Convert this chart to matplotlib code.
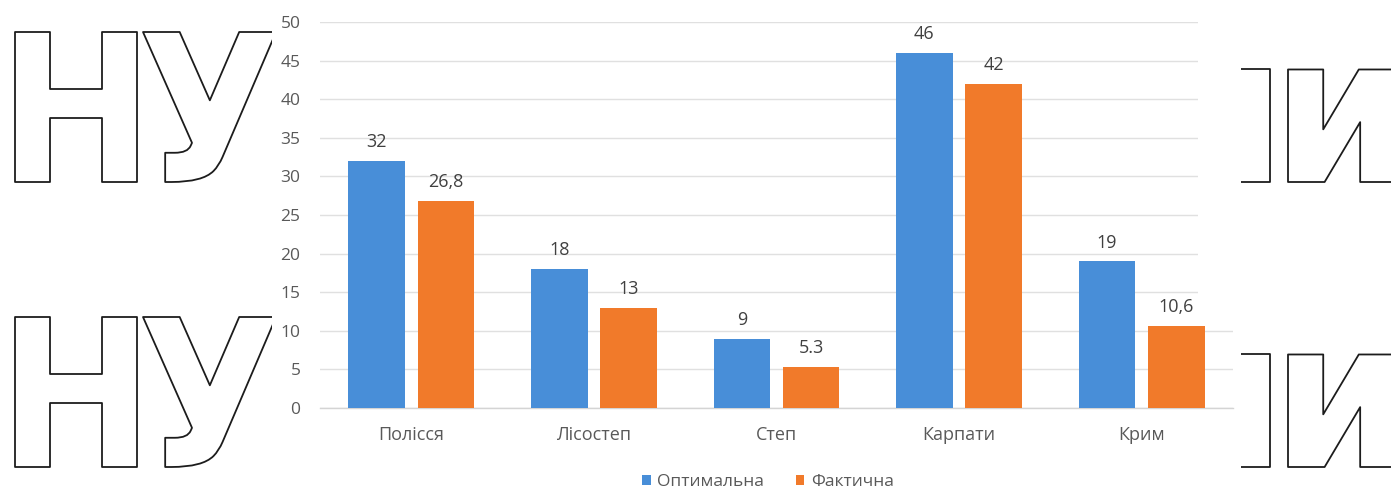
import matplotlib
matplotlib.use("Agg")
import matplotlib.pyplot as plt
from matplotlib.textpath import TextPath
from matplotlib.font_manager import FontProperties
from matplotlib.patches import PathPatch, Rectangle, Patch
from matplotlib.transforms import Affine2D
import numpy as np

categories = ["Полісся", "Лісостеп", "Степ", "Карпати", "Крим"]
optimal = [32, 18, 9, 46, 19]
actual = [26.8, 13, 5.3, 42, 10.6]
optimal_labels = ["32", "18", "9", "46", "19"]
actual_labels = ["26,8", "13", "5.3", "42", "10,6"]
series_names = ["Оптимальна", "Фактична"]
yticks = [0, 5, 10, 15, 20, 25, 30, 35, 40, 45, 50]

W, H = 1391, 499
plt.rcParams['font.family'] = ['Open Sans', 'DejaVu Sans']
fig = plt.figure(figsize=(W / 100, H / 100), dpi=100)
fig.patch.set_facecolor('white')

# ---- watermark outline letters ----
wfp = FontProperties(family='DejaVu Sans', weight='bold')
def glyph(ch):
    return TextPath((0, 0), ch, size=100, prop=wfp)
pH = glyph("Н")
ext = pH.get_extents()
cap = ext.y1
sx = 122.0 / ext.width
sy = 150.0 / cap

def place(ch, left_px, baseline_px, right_align=False, xs=1.0):
    p = glyph(ch)
    e = p.get_extents()
    if right_align:
        x0 = left_px - e.width * sx * xs
    else:
        x0 = left_px
    tr = Affine2D().translate(-e.x0, 0).scale(sx * xs, sy).translate(x0, H - baseline_px)
    patch = PathPatch(p, transform=tr, facecolor='white', edgecolor='#1c1c1c',
                      lw=1.3, joinstyle='round', zorder=-3)
    fig.patches.append(patch)

for dy in (0, 285):
    place("Н", 15, 182 + dy)
    place("У", 143, 182 + dy)
    place("н", 1270, 182 + dy, right_align=True)
    place("и", 1288, 182 + dy, xs=1.08)

# white chart area covering watermark
fig.patches.append(Rectangle((272, 0), 1241 - 272, H, transform=None,
                             facecolor='white', edgecolor='none', zorder=-2))

# ---- chart ----
left, right = 320, 1233
bottom, top = 408, 22
ax = fig.add_axes([left / W, (H - bottom) / H, (right - left) / W, (bottom - top) / H])
ax.set_facecolor('none')

x = np.arange(len(categories))
bw = 0.31
off = 0.19
blue = '#488ed8'
orange = '#f17a2a'
b1 = ax.bar(x - off, optimal, bw, color=blue, zorder=3)
b2 = ax.bar(x + off, actual, bw, color=orange, zorder=3)

for bars, labs in ((b1, optimal_labels), (b2, actual_labels)):
    for rect, lab in zip(bars, labs):
        ax.annotate(lab, (rect.get_x() + rect.get_width() / 2, rect.get_height()),
                    xytext=(0, 7), textcoords='offset points', ha='center', va='bottom',
                    fontsize=13, color='#404040')

ax.set_xlim(-0.5, len(categories) - 0.5)
ax.set_ylim(0, 50)
ax.set_yticks(yticks)
ax.set_yticklabels([str(v) for v in yticks])
ax.set_xticks(x)
ax.set_xticklabels(categories)
ax.tick_params(axis='y', length=0, pad=14, labelsize=12.5, labelcolor='#595959')
ax.tick_params(axis='x', length=0, pad=13, labelsize=13, labelcolor='#595959')
ax.yaxis.grid(True, color='#e0e0e0', lw=1.0, zorder=0)
ax.set_axisbelow(True)
for s in ('top', 'right', 'left'):
    ax.spines[s].set_visible(False)
ax.spines['bottom'].set_color('#d4d4d4')
ax.spines['bottom'].set_linewidth(1.0)

# mask gridline ends at upper right (as in reference)
fig.patches.append(Rectangle((1198, H - 318), 1241 - 1198, 318, transform=None,
                             facecolor='white', edgecolor='none', zorder=1))

handles = [Patch(facecolor=blue, edgecolor='none'), Patch(facecolor=orange, edgecolor='none')]
fig.legend(handles, series_names, loc='center', bbox_to_anchor=(768 / W, (H - 482) / H),
           ncol=2, frameon=False, fontsize=12.5, labelcolor='#595959',
           handlelength=0.5, handleheight=0.5, handletextpad=0.4, columnspacing=1.8)

fig.savefig('out.png', dpi=100, facecolor='white')
